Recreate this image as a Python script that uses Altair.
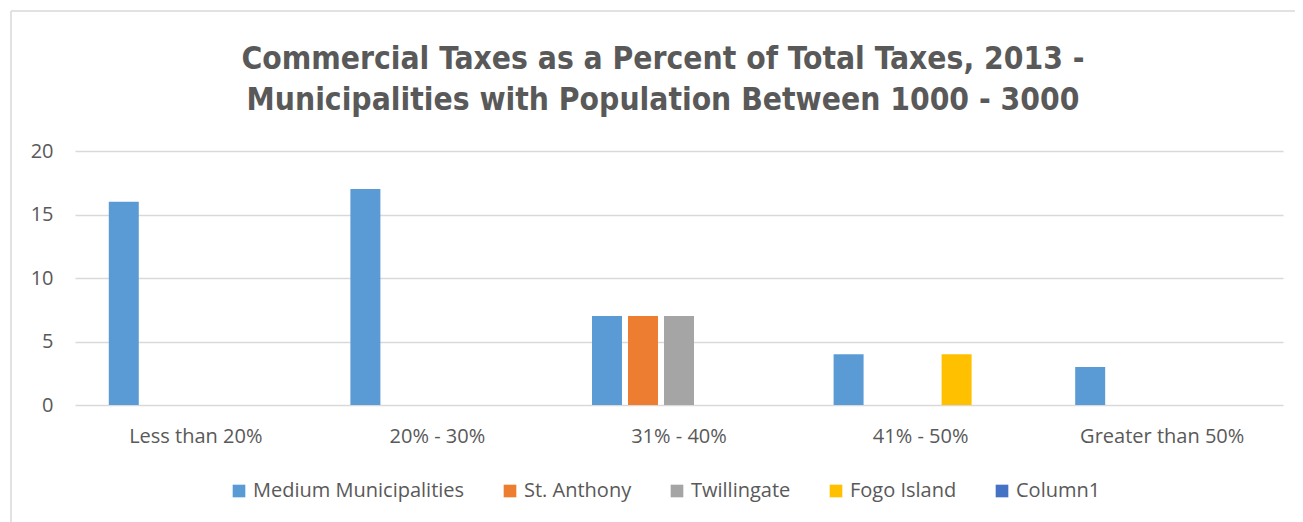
import altair as alt
import pandas as pd

categories = ["Less than 20%", "20% - 30%", "31% - 40%", "41% - 50%", "Greater than 50%"]
series = ["Medium Municipalities", "St. Anthony", "Twillingate", "Fogo Island", "Column1"]
medium = [16, 17, 7, 4, 3]
st_anthony = [0, 0, 7, 0, 0]
twillingate = [0, 0, 7, 0, 0]
fogo = [0, 0, 0, 4, 0]
column1 = [0, 0, 0, 0, 0]
colors = ["#5B9BD5", "#ED7D31", "#A5A5A5", "#FFC000", "#4472C4"]

rows = []
for s, vals in zip(series, [medium, st_anthony, twillingate, fogo, column1]):
    for c, v in zip(categories, vals):
        rows.append({"category": c, "series": s, "value": v})
df = pd.DataFrame(rows)

FONT = "Open Sans"
GREY = "#595959"

bars = alt.Chart(df).mark_bar().encode(
    x=alt.X("category:N", sort=categories, title=None,
            scale=alt.Scale(paddingInner=0.255, paddingOuter=0.1275),
            axis=alt.Axis(labelAngle=0, ticks=False, domain=False, labelPadding=21,
                          labelFont=FONT, labelFontSize=20, labelColor=GREY, grid=False)),
    xOffset=alt.XOffset("series:N", sort=series,
                        scale=alt.Scale(paddingInner=0.167, paddingOuter=0.083)),
    y=alt.Y("value:Q", title=None, scale=alt.Scale(domain=[0, 20]),
            axis=alt.Axis(values=[0, 5, 10, 15, 20], ticks=False, domain=False,
                          labelPadding=22, labelFont=FONT, labelFontSize=20,
                          labelColor=GREY, gridColor="#d9d9d9", gridWidth=1.3)),
    color=alt.Color("series:N", sort=series, title=None,
                    scale=alt.Scale(domain=series, range=colors),
                    legend=alt.Legend(orient="none", legendX=154, legendY=330,
                                      direction="horizontal", columns=5,
                                      symbolType="square", symbolSize=160,
                                      symbolStrokeWidth=0, labelFont=FONT,
                                      labelFontSize=20, labelColor=GREY,
                                      labelLimit=400,
                                      columnPadding=35, labelOffset=4)),
)

border = alt.Chart(pd.DataFrame({"k": [0]})).mark_rule(color="#d9d9d9", strokeWidth=1.5).encode(
    x=alt.value(-64), x2=alt.value(1300), y=alt.value(-140)
)
border2 = alt.Chart(pd.DataFrame({"k": [0]})).mark_rule(color="#d9d9d9", strokeWidth=1.5).encode(
    x=alt.value(-64), y=alt.value(-140), y2=alt.value(500)
)

chart = alt.layer(border, border2, bars).properties(
    width=1208, height=254,
    padding={"left": 67, "top": 143, "right": 12, "bottom": 117},
    autosize=alt.AutoSizeParams(type="none"),
    title=alt.TitleParams(
        ["Commercial Taxes as a Percent of Total Taxes, 2013 -",
         "Municipalities with Population Between 1000 - 3000"],
        font="'DejaVu Sans Condensed', Roboto, sans-serif", fontSize=31.5,
        fontWeight="bold", color=GREY,
        lineHeight=41, anchor="middle", dx=-16, offset=0, dy=106),
).configure_view(stroke=None)

chart.save("out.html", embed_options={"renderer": "svg", "actions": False})
